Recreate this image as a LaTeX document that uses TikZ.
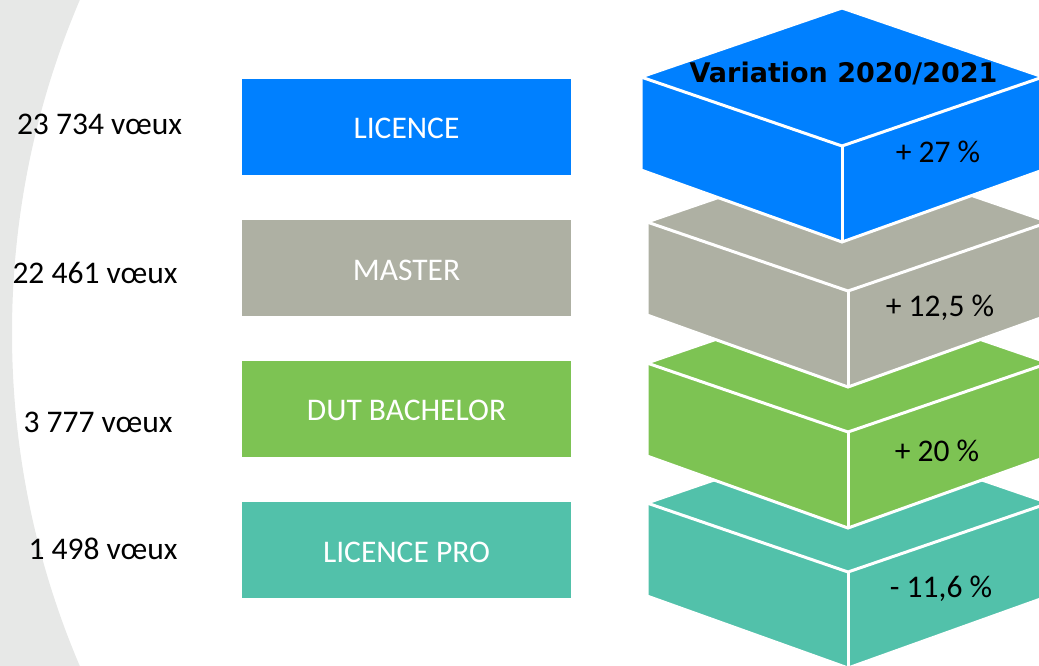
\documentclass[tikz,border=0pt]{standalone}
\usepackage{fontspec}
\setmainfont{Carlito}
\newfontfamily\titlefont{DejaVu Sans}
\usepackage{xcolor}
\usetikzlibrary{positioning}

\definecolor{licblue}{HTML}{0080FF}
\definecolor{mastgrey}{HTML}{AEB0A3}
\definecolor{dutgreen}{HTML}{7DC353}
\definecolor{proteal}{HTML}{52C1AA}
\definecolor{backgrey}{HTML}{E7E8E7}

\begin{document}
\begin{tikzpicture}[x=1pt, y=-1pt,
    txt/.style={font=\fontsize{31.5}{36}\selectfont, anchor=base, inner sep=0pt},
    level/.style={minimum width=329pt, minimum height=96pt, inner sep=0pt,
                  text height=24pt, text depth=0pt,
                  text=white, font=\fontsize{31.5}{36}\selectfont},
    edge/.style={draw=white, line width=3pt, line join=miter}]
\useasboundingbox (0,0) rectangle (1039,666);
\clip (0,0) rectangle (1039,666);
% background arc
\fill[backgrey, even odd rule] (0,0) rectangle (1039,666) (861,333) circle[radius=849];

% left column
\node[level, fill=licblue] (licence) at (406.5,127) {LICENCE};
\node[level, fill=mastgrey, below=45pt of licence] (master) {MASTER};
\node[level, fill=dutgreen, below=44pt of master] (bachelor) {DUT BACHELOR};
\node[level, fill=proteal, below=45pt of bachelor] (licpro) {LICENCE PRO};

\node[txt] (n-licence) at (99.5,135) {23 734 vœux};
\node[txt] (n-master) at (95,283) {22 461 vœux};
\node[txt] (n-bachelor) at (98,432) {3 777 vœux};
\node[txt] (n-licpro) at (103,559) {1 498 vœux};

% blocks, lowest first
\foreach \col/\xl/\yl/\px/\py/\pct in {proteal/647/503/941/597/{- 11,6 \%},
    dutgreen/647/363/937/461/{+ 20 \%}, mastgrey/647/222/940/316/{+ 12,5 \%},
    licblue/641/77/938/163/{+ 27 \%}}
{
  \coordinate (T) at ({\xl+201},{\yl-69});
  \coordinate (R) at ({\xl+402},\yl);
  \coordinate (L) at (\xl,\yl);
  \coordinate (M) at ({\xl+201},{\yl+69});
  \coordinate (BL) at (\xl,{\yl+93});
  \coordinate (BM) at ({\xl+201},{\yl+165});
  \coordinate (BR) at ({\xl+402},{\yl+93});
  \filldraw[edge, fill=\col] (T) -- (R) -- (BR) -- (BM) -- (BL) -- (L) -- cycle;
  \draw[edge] (L) -- (M) -- (R);
  \draw[edge] (M) -- (BM);
  \node[txt] (pct-\col) at (\px,\py) {\pct};
}

\node[anchor=base, inner sep=0pt, font=\titlefont\bfseries\fontsize{27}{32}\selectfont]
  (title) at (843.5,83) {Variation 2020/2021};
\end{tikzpicture}
\end{document}
